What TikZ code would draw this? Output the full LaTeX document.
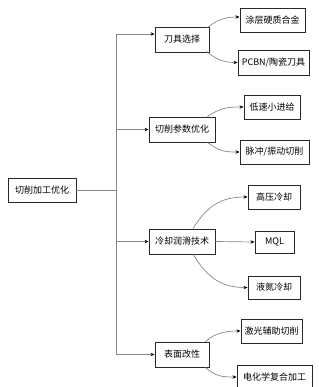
\documentclass[tikz,border=0pt]{standalone}
\usepackage{fontspec}
\setmainfont{Noto Sans CJK SC}
\usetikzlibrary{arrows.meta,calc}
\definecolor{lineg}{RGB}{135,135,135}
\definecolor{boxc}{RGB}{40,40,40}
\begin{document}
\begin{tikzpicture}[x=1pt,y=-1pt,
  box/.style={draw=boxc,line width=0.9pt,inner sep=0pt,font=\fontsize{9}{10}\selectfont},
  conn/.style={draw=lineg,line width=0.7pt,-{Stealth[length=4pt,width=3.4pt,black]}},
  plain/.style={draw=lineg,line width=0.7pt}]
\useasboundingbox (0,0) rectangle (318,387);
% root
\node[box,minimum width=68pt,minimum height=24pt] (root) at (42,190) {切削加工优化};
% level 1
\node[box,minimum width=54pt,minimum height=25pt] (a) at (182,39.5) {刀具选择};
\node[box,minimum width=66pt,minimum height=25pt] (b) at (182,129.5) {切削参数优化};
\node[box,minimum width=66pt,minimum height=25pt] (c) at (182,241.5) {冷却润滑技术};
\node[box,minimum width=54pt,minimum height=25pt] (d) at (182,354.5) {表面改性};
% level 2
\node[box,minimum width=65pt,minimum height=24pt] (a1) at (272.5,20) {涂层硬质合金};
\node[box,minimum width=71pt,minimum height=25pt] (a2) at (273.5,62.5) {PCBN/陶瓷刀具};
\node[box,minimum width=56pt,minimum height=24pt] (b1) at (272,107) {低速小进给};
\node[box,minimum width=69pt,minimum height=24pt] (b2) at (274.5,152) {脉冲/振动切削};
\node[box,minimum width=52pt,minimum height=24pt] (c1) at (274,197) {高压冷却};
\node[box,minimum width=39pt,minimum height=22pt] (c2) at (274.5,242) {MQL};
\node[box,minimum width=52pt,minimum height=23pt] (c3) at (274,287.5) {液氮冷却};
\node[box,minimum width=61pt,minimum height=24pt] (d1) at (271.5,331) {激光辅助切削};
\node[box,minimum width=75pt,minimum height=24pt] (d2) at (274.5,377) {电化学复合加工};
% trunk
\coordinate (j) at (116,190);
\draw[plain] (root.east) -- (j);
\draw[conn] (j) |- ($(a.west)+(0,-5.5)$);
\draw[conn] (j) |- (b.west);
\draw[conn] (j) |- (c.west);
\draw[conn] (j) |- (d.west);
% branches
\draw[conn] ($(a.north east)+(-2,1)$) .. controls +(10,-8) and +(-14,0) .. ($(a1.west)+(0,-3)$);
\draw[conn] ($(a.south east)+(-3,-1)$) .. controls +(10,8) and +(-14,0) .. (a2.west);
\draw[conn] ($(b.north east)+(-8,0)$) .. controls +(12,-8) and +(-18,0) .. (b1.west);
\draw[conn] ($(b.south east)+(-8,0)$) .. controls +(12,8) and +(-18,0) .. (b2.west);
\draw[conn] ($(c.north)+(11,0)$) .. controls +(14,-22) and +(-28,0) .. (c1.west);
\draw[conn] (c.east) -- (c2.west);
\draw[conn] ($(c.south)+(11,0)$) .. controls +(14,22) and +(-28,0) .. (c3.west);
\draw[conn] ($(d.north east)+(-4,0)$) .. controls +(10,-9) and +(-14,0) .. (d1.west);
\draw[conn] ($(d.south east)+(-4,0)$) .. controls +(10,9) and +(-14,0) .. (d2.west);
\end{tikzpicture}
\end{document}
